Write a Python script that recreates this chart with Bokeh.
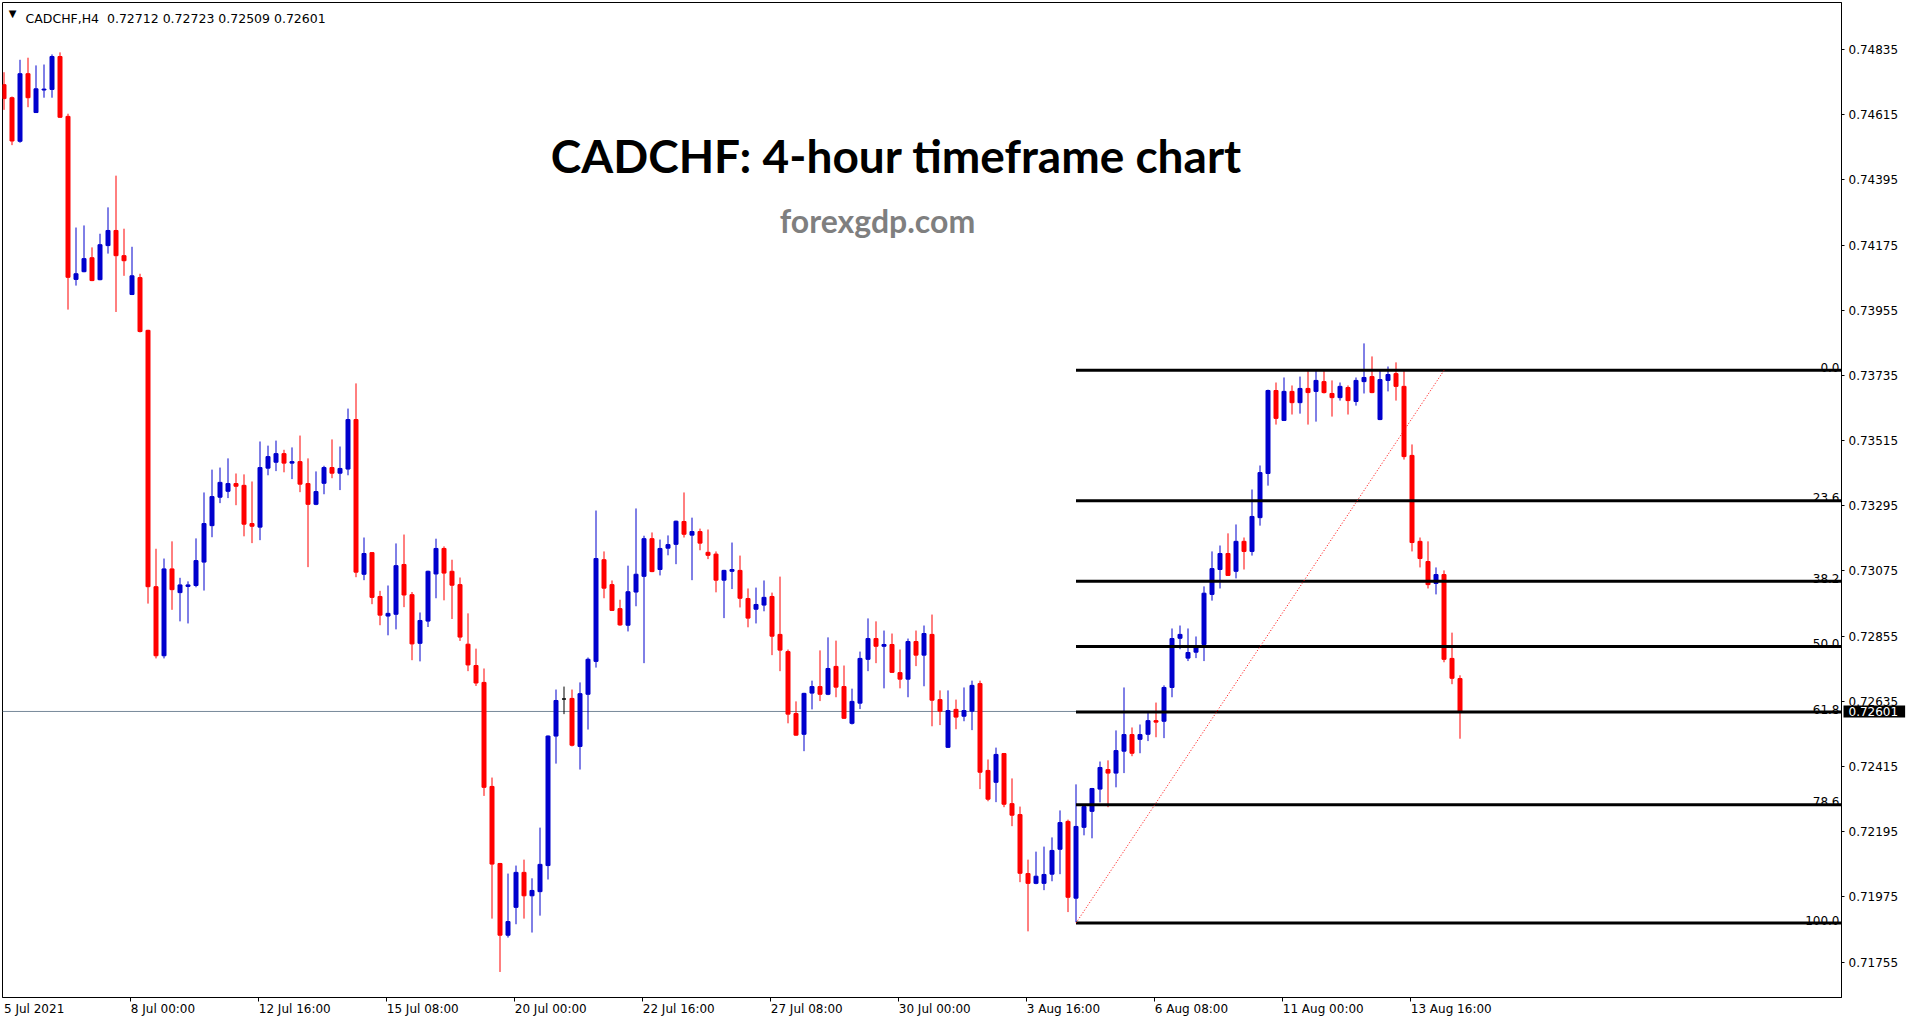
from bokeh.plotting import figure
from bokeh.models import ColumnDataSource, Range1d, FixedTicker, Span, Label, NumeralTickFormatter
from bokeh.core.properties import value
from bokeh.embed import file_html
from bokeh.resources import INLINE

symbol = "CADCHF"
timeframe = "H4"
chart_title = "CADCHF: 4-hour timeframe chart"
watermark = "forexgdp.com"

opens = [0.74716, 0.74672, 0.74525, 0.74753, 0.74622, 0.74698, 0.74700, 0.74811, 0.74609, 0.74059,
         0.74085, 0.74132, 0.74058, 0.74173, 0.74224, 0.74139, 0.74008, 0.74065, 0.73887, 0.73022,
         0.72789, 0.73082, 0.73002, 0.73023, 0.73026, 0.73105, 0.73228, 0.73324, 0.73344, 0.73370,
         0.73364, 0.73235, 0.73223, 0.73422, 0.73442, 0.73471, 0.73439, 0.73444, 0.73370, 0.73300,
         0.73371, 0.73424, 0.73405, 0.73419, 0.73586, 0.73064, 0.73137, 0.72989, 0.72923, 0.72929,
         0.73097, 0.72995, 0.72831, 0.72906, 0.73065, 0.73151, 0.73074, 0.73029, 0.72828, 0.72756,
         0.72699, 0.72348, 0.72088, 0.71846, 0.71940, 0.72058, 0.71979, 0.71993, 0.72081, 0.72518,
         0.72643, 0.72645, 0.72483, 0.72659, 0.72770, 0.73113, 0.73029, 0.72948, 0.72892, 0.73004,
         0.73057, 0.73184, 0.73080, 0.73152, 0.73165, 0.73242, 0.73196, 0.73208, 0.73138, 0.73132,
         0.73044, 0.73074, 0.73077, 0.72982, 0.72946, 0.72960, 0.72989, 0.72861, 0.72803, 0.72594,
         0.72524, 0.72663, 0.72685, 0.72659, 0.72753, 0.72685, 0.72561, 0.72629, 0.72777, 0.72847,
         0.72821, 0.72827, 0.72732, 0.72710, 0.72837, 0.72791, 0.72861, 0.72641, 0.72480, 0.72608,
         0.72585, 0.72602, 0.72695, 0.72402, 0.72362, 0.72459, 0.72290, 0.72253, 0.72054, 0.72021,
         0.72021, 0.72052, 0.72136, 0.72230, 0.71971, 0.72210, 0.72264, 0.72339, 0.72405, 0.72393,
         0.72467, 0.72523, 0.72507, 0.72524, 0.72570, 0.72568, 0.72682, 0.72848, 0.72781, 0.72801,
         0.72827, 0.72996, 0.73080, 0.73134, 0.73074, 0.73175, 0.73141, 0.73255, 0.73404, 0.73684,
         0.73583, 0.73681, 0.73643, 0.73691, 0.73681, 0.73714, 0.73674, 0.73660, 0.73694, 0.73647,
         0.73714, 0.73731, 0.73586, 0.73718, 0.73741, 0.73698, 0.73465, 0.73175, 0.73107, 0.73033,
         0.73063, 0.72780, 0.72712]
highs = [0.74758, 0.74676, 0.74800, 0.74807, 0.74781, 0.74784, 0.74818, 0.74825, 0.74618, 0.74234,
         0.74241, 0.74167, 0.74213, 0.74302, 0.74409, 0.74230, 0.74169, 0.74078, 0.73889, 0.73150,
         0.73117, 0.73175, 0.73052, 0.73040, 0.73185, 0.73340, 0.73417, 0.73424, 0.73455, 0.73404,
         0.73401, 0.73377, 0.73512, 0.73498, 0.73515, 0.73484, 0.73492, 0.73532, 0.73455, 0.73411,
         0.73430, 0.73519, 0.73495, 0.73623, 0.73708, 0.73188, 0.73139, 0.73008, 0.73026, 0.73168,
         0.73198, 0.73004, 0.72935, 0.73076, 0.73184, 0.73158, 0.73113, 0.73053, 0.72932, 0.72813,
         0.72746, 0.72378, 0.72090, 0.72054, 0.72081, 0.72101, 0.72038, 0.72209, 0.72520, 0.72675,
         0.72685, 0.72675, 0.72699, 0.72783, 0.73279, 0.73141, 0.73043, 0.72978, 0.73093, 0.73286,
         0.73194, 0.73205, 0.73181, 0.73195, 0.73245, 0.73340, 0.73255, 0.73218, 0.73215, 0.73141,
         0.73079, 0.73171, 0.73127, 0.73016, 0.73019, 0.73043, 0.73002, 0.73056, 0.72810, 0.72635,
         0.72664, 0.72705, 0.72807, 0.72851, 0.72840, 0.72756, 0.72678, 0.72803, 0.72915, 0.72905,
         0.72874, 0.72864, 0.72810, 0.72847, 0.72874, 0.72891, 0.72928, 0.72672, 0.72672, 0.72641,
         0.72682, 0.72705, 0.72705, 0.72439, 0.72479, 0.72461, 0.72375, 0.72280, 0.72101, 0.72128,
         0.72145, 0.72176, 0.72267, 0.72236, 0.72355, 0.72282, 0.72343, 0.72432, 0.72436, 0.72537,
         0.72682, 0.72547, 0.72557, 0.72601, 0.72631, 0.72689, 0.72881, 0.72891, 0.72881, 0.72854,
         0.73023, 0.73141, 0.73161, 0.73202, 0.73232, 0.73188, 0.73350, 0.73431, 0.73687, 0.73711,
         0.73728, 0.73701, 0.73731, 0.73752, 0.73752, 0.73752, 0.73718, 0.73711, 0.73701, 0.73728,
         0.73843, 0.73799, 0.73752, 0.73765, 0.73779, 0.73752, 0.73502, 0.73188, 0.73175, 0.73087,
         0.73077, 0.72867, 0.72723]
lows = [0.74631, 0.74512, 0.74520, 0.74640, 0.74622, 0.74672, 0.74672, 0.74604, 0.73957, 0.74038,
        0.74083, 0.74053, 0.74056, 0.74146, 0.73949, 0.74071, 0.74006, 0.73880, 0.72965, 0.72780,
        0.72780, 0.72944, 0.72905, 0.72898, 0.73020, 0.73009, 0.73189, 0.73304, 0.73321, 0.73297,
        0.73192, 0.73169, 0.73179, 0.73398, 0.73412, 0.73408, 0.73385, 0.73341, 0.73088, 0.73297,
        0.73334, 0.73388, 0.73348, 0.73398, 0.73054, 0.73044, 0.72963, 0.72892, 0.72858, 0.72878,
        0.72953, 0.72774, 0.72770, 0.72886, 0.72983, 0.72976, 0.72913, 0.72839, 0.72737, 0.72687,
        0.72316, 0.71902, 0.71722, 0.71838, 0.71883, 0.71902, 0.71855, 0.71912, 0.72034, 0.72425,
        0.72592, 0.72483, 0.72405, 0.72540, 0.72749, 0.72983, 0.72940, 0.72890, 0.72871, 0.72956,
        0.72764, 0.73071, 0.73060, 0.73128, 0.73098, 0.73188, 0.73044, 0.73145, 0.73115, 0.73003,
        0.72916, 0.73014, 0.72952, 0.72885, 0.72898, 0.72939, 0.72791, 0.72737, 0.72561, 0.72519,
        0.72467, 0.72608, 0.72636, 0.72656, 0.72649, 0.72576, 0.72557, 0.72609, 0.72737, 0.72764,
        0.72679, 0.72731, 0.72679, 0.72649, 0.72754, 0.72686, 0.72551, 0.72555, 0.72478, 0.72541,
        0.72568, 0.72538, 0.72339, 0.72298, 0.72295, 0.72278, 0.72214, 0.72025, 0.71859, 0.72018,
        0.71998, 0.72028, 0.72052, 0.71924, 0.71890, 0.72183, 0.72173, 0.72294, 0.72278, 0.72345,
        0.72393, 0.72450, 0.72460, 0.72501, 0.72514, 0.72511, 0.72649, 0.72811, 0.72771, 0.72781,
        0.72771, 0.72975, 0.73016, 0.73058, 0.73050, 0.73080, 0.73127, 0.73228, 0.73363, 0.73569,
        0.73581, 0.73603, 0.73606, 0.73569, 0.73579, 0.73674, 0.73596, 0.73650, 0.73603, 0.73633,
        0.73674, 0.73675, 0.73584, 0.73681, 0.73650, 0.73451, 0.73141, 0.73087, 0.73016, 0.72996,
        0.72767, 0.72693, 0.72509]
closes = [0.74669, 0.74526, 0.74753, 0.74672, 0.74702, 0.74701, 0.74811, 0.74606, 0.74066, 0.74078,
          0.74129, 0.74055, 0.74176, 0.74224, 0.74139, 0.74122, 0.74071, 0.73883, 0.73022, 0.72789,
          0.73082, 0.73012, 0.73028, 0.73028, 0.73110, 0.73235, 0.73326, 0.73374, 0.73370, 0.73361,
          0.73233, 0.73226, 0.73424, 0.73461, 0.73471, 0.73439, 0.73444, 0.73368, 0.73300, 0.73343,
          0.73424, 0.73405, 0.73421, 0.73586, 0.73071, 0.73134, 0.72986, 0.72926, 0.72932, 0.73093,
          0.72994, 0.72829, 0.72908, 0.73074, 0.73151, 0.73068, 0.73027, 0.72852, 0.72758, 0.72697,
          0.72345, 0.72086, 0.71846, 0.71892, 0.72058, 0.71979, 0.71997, 0.72085, 0.72518, 0.72638,
          0.72643, 0.72487, 0.72661, 0.72777, 0.73117, 0.73017, 0.72942, 0.72893, 0.73005, 0.73064,
          0.73184, 0.73073, 0.73151, 0.73164, 0.73243, 0.73199, 0.73208, 0.73169, 0.73128, 0.73044,
          0.73077, 0.73080, 0.72983, 0.72916, 0.72962, 0.72986, 0.72855, 0.72808, 0.72592, 0.72521,
          0.72662, 0.72685, 0.72659, 0.72746, 0.72683, 0.72578, 0.72635, 0.72780, 0.72847, 0.72821,
          0.72827, 0.72733, 0.72710, 0.72837, 0.72791, 0.72864, 0.72639, 0.72602, 0.72604, 0.72582,
          0.72604, 0.72689, 0.72396, 0.72305, 0.72456, 0.72288, 0.72251, 0.72055, 0.72021, 0.72045,
          0.72051, 0.72132, 0.72226, 0.71974, 0.72213, 0.72280, 0.72341, 0.72412, 0.72393, 0.72469,
          0.72523, 0.72460, 0.72523, 0.72570, 0.72565, 0.72682, 0.72847, 0.72861, 0.72800, 0.72820,
          0.73000, 0.73083, 0.73134, 0.73060, 0.73175, 0.73141, 0.73259, 0.73407, 0.73684, 0.73590,
          0.73681, 0.73643, 0.73691, 0.73677, 0.73718, 0.73677, 0.73660, 0.73698, 0.73650, 0.73718,
          0.73728, 0.73677, 0.73721, 0.73738, 0.73698, 0.73461, 0.73171, 0.73117, 0.73029, 0.73063,
          0.72777, 0.72713, 0.72601]

x_tick_bars = [0, 16, 32, 48, 64, 80, 96, 112, 128, 144, 160, 176]
x_tick_labels = ["5 Jul 2021", "8 Jul 00:00", "12 Jul 16:00", "15 Jul 08:00", "20 Jul 00:00",
                 "22 Jul 16:00", "27 Jul 08:00", "30 Jul 00:00", "3 Aug 16:00", "6 Aug 08:00",
                 "11 Aug 00:00", "13 Aug 16:00"]
y_ticks = [0.74835, 0.74615, 0.74395, 0.74175, 0.73955, 0.73735, 0.73515, 0.73295,
           0.73075, 0.72855, 0.72635, 0.72415, 0.72195, 0.71975, 0.71755]

fib_level_labels = ["0.0", "23.6", "38.2", "50.0", "61.8", "78.6", "100.0"]
fib_level_prices = [0.73752, 0.73312, 0.73040, 0.72820, 0.72599, 0.72286, 0.71887]
fib_start_bar = 134
fib_end_bar = 180

# ---------------- layout ----------------
PX_PER_BAR = 8
FRAME_W = 1839
FRAME_H = 995
x_start = -1.5 / PX_PER_BAR
x_end = x_start + FRAME_W / PX_PER_BAR
y_top = 0.749933
y_bot = 0.716358

n = len(opens)
bars = list(range(n))
last_price = closes[-1]

p = figure(frame_width=FRAME_W, frame_height=FRAME_H,
           x_range=Range1d(x_start, x_end), y_range=Range1d(y_bot, y_top),
           output_backend="svg", toolbar_location=None, y_axis_location="right",
           min_border_left=2, min_border_top=2, min_border_right=72, min_border_bottom=24,
           background_fill_color="white", border_fill_color="white")
p.xgrid.visible = False
p.ygrid.visible = False
p.outline_line_color = "black"
p.outline_line_width = 1
p.outline_line_alpha = 1.0

# y axis (right)
p.yaxis.ticker = FixedTicker(ticks=y_ticks)
p.yaxis.formatter = NumeralTickFormatter(format="0.00000")
p.yaxis.major_label_text_font = "DejaVu Sans"
p.yaxis.major_label_text_font_size = "12px"
p.yaxis.major_label_text_color = "black"
p.yaxis.major_tick_out = 3
p.yaxis.major_tick_in = 0
p.yaxis.minor_tick_out = 0
p.yaxis.minor_tick_in = 0
p.yaxis.major_label_standoff = 4
p.yaxis.axis_line_color = "black"
p.yaxis.major_tick_line_color = "black"

# x axis: labels start at the tick mark (MT4 style)
cw = {" ": 0.318, "J": 0.295, "u": 0.634, "l": 0.278, ":": 0.337, "A": 0.684, "g": 0.635}
for d in "0123456789":
    cw[d] = 0.636
def text_px(s, size=12):
    return sum(cw.get(ch, 0.62) for ch in s) * size

mark_pos = [b - 0.15 for b in x_tick_bars[1:]]
label_start = [x_start + 1.5 / PX_PER_BAR] + mark_pos
label_centers = [round(s + text_px(t) / 2 / PX_PER_BAR, 4) for s, t in zip(label_start, x_tick_labels)]
p.xaxis.ticker = FixedTicker(ticks=label_centers, minor_ticks=mark_pos)
p.xaxis.major_label_overrides = {c: t for c, t in zip(label_centers, x_tick_labels)}
p.xaxis.major_label_text_font = "DejaVu Sans"
p.xaxis.major_label_text_font_size = "12px"
p.xaxis.major_label_text_color = "black"
p.xaxis.major_tick_out = 0
p.xaxis.major_tick_in = 0
p.xaxis.minor_tick_out = 4
p.xaxis.minor_tick_in = 0
p.xaxis.minor_tick_line_color = "black"
p.xaxis.major_label_standoff = 0
p.xaxis.axis_line_color = "black"

# current price line
p.add_layout(Span(location=last_price, dimension="width", line_color="#778899",
                  line_width=1, level="underlay"))

# candles
colors = ["#0000cd" if c > o else ("#ff0000" if c < o else "#000000") for o, c in zip(opens, closes)]
src = ColumnDataSource(dict(x=bars, o=opens, h=highs, l=lows, c=closes,
                            top=[max(o, c) for o, c in zip(opens, closes)],
                            bottom=[min(o, c) for o, c in zip(opens, closes)],
                            color=colors))
p.segment(x0="x", y0="l", x1="x", y1="h", line_color="color", line_width=1, source=src)
p.vbar(x="x", width=4 / PX_PER_BAR, top="top", bottom="bottom", fill_color="color",
       line_color="color", line_width=1, source=src)

# fibonacci retracement
nf = len(fib_level_prices)
p.segment(x0=[fib_start_bar] * nf, y0=fib_level_prices, x1=[x_end] * nf, y1=fib_level_prices,
          line_color="black", line_width=3)
p.text(x=[x_end] * nf, y=fib_level_prices, text=fib_level_labels, text_align="right",
       text_baseline="alphabetic", x_offset=-2, y_offset=-3,
       text_font=value("DejaVu Sans"), text_font_size="12px", text_color="black")
p.line(x=[fib_start_bar, fib_end_bar], y=[fib_level_prices[-1], fib_level_prices[0]],
       line_color="red", line_width=1, line_dash="1 2")

# price tag on the axis (placed in the right side panel so it is not clipped)
p.add_layout(Label(x=x_end, y=last_price, x_offset=2, text=f"{last_price:.5f}",
                   text_font="DejaVu Sans", text_font_size="12px", text_color="white",
                   text_baseline="middle", background_fill_color="black",
                   padding=dict(left=5, right=7, top=2, bottom=1), level="overlay"), "right")

# header
header = f"{symbol},{timeframe}\u00a0 {opens[-1]:.5f} {highs[-1]:.5f} {lows[-1]:.5f} {closes[-1]:.5f}"
p.add_layout(Label(x=x_start + 23 / PX_PER_BAR, y=0.749382, text=header,
                   text_font="DejaVu Sans", text_font_size="12.5px", text_color="black",
                   text_baseline="alphabetic"))
p.add_layout(Label(x=x_start + 10 / PX_PER_BAR, y=0.749551, text="\u25bc",
                   text_font="DejaVu Sans", text_font_size="10px", text_color="black",
                   text_align="center", text_baseline="middle"))

# title + watermark
p.add_layout(Label(x=x_start + 894 / PX_PER_BAR, y=0.744770, text=chart_title,
                   text_font="Lato", text_font_style="bold", text_font_size="46px",
                   text_color="black", text_align="center", text_baseline="alphabetic"))
p.add_layout(Label(x=x_start + 875 / PX_PER_BAR, y=0.742577, text=watermark,
                   text_font="Lato", text_font_style="bold", text_font_size="32px",
                   text_color="#7f7f7f", text_align="center", text_baseline="alphabetic"))

open("out.html", "w").write(file_html(p, INLINE))
